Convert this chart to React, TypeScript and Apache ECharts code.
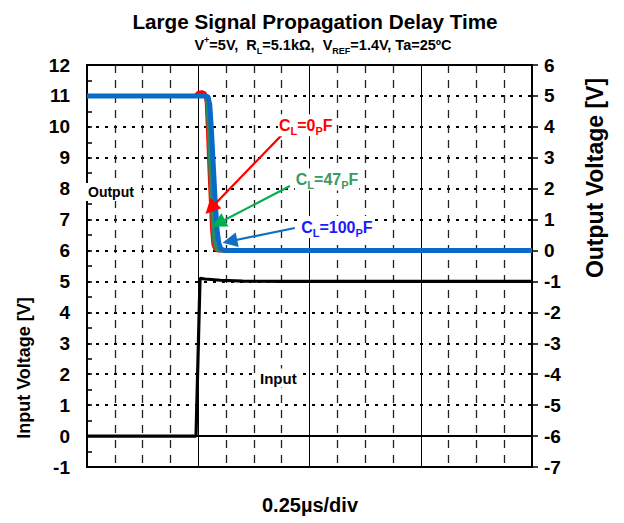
import React, { useEffect, useRef } from "react";
import * as echarts from "echarts";

// time in µs (0.25 µs per division)
const inputTime = [0, 0.245, 0.254, 0.265, 0.3, 0.35, 0.45, 1.0];
const inputVolt = [0, 0, 5.1, 5.08, 5.04, 5.01, 5.0, 5.0];

const cl0Time = [0, 0.243, 0.25, 0.258, 0.265, 0.269, 0.272, 0.275, 0.278, 0.281, 0.284, 0.289, 0.295, 1.0];
const cl0Volt = [5, 5, 5.1, 5.12, 5.08, 4.8, 3.8, 2.7, 1.7, 0.7, 0.2, 0.03, 0, 0];

const cl47Time = [0, 0.25, 0.267, 0.271, 0.274, 0.277, 0.28, 0.283, 0.287, 0.292, 0.3, 1.0];
const cl47Volt = [5, 5, 5.02, 4.7, 3.8, 2.7, 1.7, 0.8, 0.2, 0.03, 0, 0];

const cl100Time = [0, 0.266, 0.272, 0.276, 0.28, 0.284, 0.288, 0.292, 0.296, 0.301, 0.31, 1.0];
const cl100Volt = [5, 5, 4.97, 4.7, 3.8, 2.7, 1.6, 0.7, 0.25, 0.05, 0, 0];

const leftTicks = { min: -1, max: 12, step: 1 };
const rightTicks = { min: -7, max: 6, step: 1 };

// annotation anchors [time µs, output V]
const cl0Arrow = [[0.438, 3.74], [0.278, 1.36]];
const cl47Arrow = [[0.456, 2.09], [0.295, 0.88]];
const cl100Arrow = [[0.467, 0.73], [0.321, 0.3]];
const cl0LabelAt = [0.429, 4.05];
const cl47LabelAt = [0.467, 2.3];
const cl100LabelAt = [0.479, 0.76];

const FONT = '"Liberation Sans", Arial, sans-serif';

const zip = (xs: number[], ys: number[]) => xs.map((x, i) => [x, ys[i]]);

const labelRich = (color: string) => ({
  m: { fontFamily: FONT, fontWeight: "bold", fontSize: 16, lineHeight: 22, color },
  s: { fontFamily: FONT, fontWeight: "bold", fontSize: 11, lineHeight: 11, verticalAlign: "bottom", color },
});

function annot(arrow: number[][], at: number[], lineColor: string, textColor: string, formatter: string) {
  return {
    markLine: {
      silent: true,
      animation: false,
      z: 20,
      symbol: ["none", "triangle"],
      symbolSize: 15,
      label: { show: false },
      lineStyle: { color: lineColor, width: 2.2, type: "solid" },
      emphasis: { disabled: true },
      data: [[{ coord: arrow[0] }, { coord: arrow[1] }]],
    },
    markPoint: {
      silent: true,
      animation: false,
      z: 20,
      symbol: "rect",
      symbolSize: 0,
      label: {
        show: true,
        position: "right",
        distance: 0,
        formatter,
        backgroundColor: "#fff",
        padding: [0, 1],
        rich: labelRich(textColor),
      },
      data: [{ coord: at }],
    },
  };
}

export default function App() {
  const ref = useRef<HTMLDivElement>(null);
  useEffect(() => {
    document.body.style.margin = "0";
    const chart = echarts.init(ref.current!, null, { renderer: "svg" });
    const axisLabel = { color: "#000", fontFamily: FONT, fontWeight: "bold", fontSize: 19 };
    chart.setOption({
      animation: false,
      backgroundColor: "#fff",
      grid: { left: 87, top: 65, width: 445, height: 402, show: true, borderColor: "#000", borderWidth: 2, backgroundColor: "transparent" },
      xAxis: {
        type: "value",
        min: 0,
        max: 1,
        interval: 0.25,
        axisLabel: { show: false },
        axisTick: { show: false },
        axisLine: { show: true, lineStyle: { color: "#000", width: 2 } },
        splitLine: { show: true, lineStyle: { color: "#000", width: 1, type: "solid" } },
        minorTick: { show: false, splitNumber: 4 },
        minorSplitLine: { show: true, lineStyle: { color: "#222", width: 1.3, type: [8, 7] } },
      },
      yAxis: [
        {
          type: "value",
          position: "left",
          min: leftTicks.min,
          max: leftTicks.max,
          interval: leftTicks.step,
          axisLine: { show: true, lineStyle: { color: "#000", width: 2 } },
          axisTick: { show: true, inside: true, length: 5, lineStyle: { color: "#000", width: 1.5 } },
          minorTick: { show: true, splitNumber: 2, length: 5, lineStyle: { color: "#000", width: 1.5 } },
          axisLabel: { ...axisLabel, margin: 17 },
          splitLine: { show: true, lineStyle: { color: "#000", width: 2, type: [3, 6] } },
        },
        {
          type: "value",
          position: "right",
          min: rightTicks.min,
          max: rightTicks.max,
          interval: rightTicks.step,
          axisLine: { show: true, lineStyle: { color: "#000", width: 2 } },
          axisTick: { show: true, inside: false, length: 6, lineStyle: { color: "#000", width: 1.5 } },
          axisLabel: { ...axisLabel, margin: 12 },
          splitLine: { show: false },
        },
      ],
      series: [
        {
          name: "Input",
          type: "line",
          yAxisIndex: 0,
          data: zip(inputTime, inputVolt),
          showSymbol: false,
          symbol: "none",
          lineStyle: { color: "#000", width: 3.2 },
          z: 3,
        },
        {
          name: "CL=0pF",
          type: "line",
          yAxisIndex: 1,
          data: zip(cl0Time, cl0Volt),
          symbol: "none",
          lineStyle: { color: "#ff0000", width: 4 },
          z: 4,
          ...annot(cl0Arrow, cl0LabelAt, "#ff0000", "#ff0000", "{m|C}{s|L}{m|=0}{s|P}{m|F}"),
        },
        {
          name: "CL=47pF",
          type: "line",
          yAxisIndex: 1,
          data: zip(cl47Time, cl47Volt),
          symbol: "none",
          lineStyle: { color: "#2e8b57", width: 4 },
          z: 5,
          ...annot(cl47Arrow, cl47LabelAt, "#00b050", "#3a9a62", "{m|C}{s|L}{m|=47}{s|P}{m|F}"),
        },
        {
          name: "CL=100pF",
          type: "line",
          yAxisIndex: 1,
          data: zip(cl100Time, cl100Volt),
          symbol: "none",
          lineStyle: { color: "#0a6ac8", width: 5 },
          z: 6,
          ...annot(cl100Arrow, cl100LabelAt, "#1070c0", "#1a1aff", "{m|C}{s|L}{m|=100}{s|P}{m|F}"),
        },
      ],
      graphic: [
        {
          type: "text",
          x: 315,
          y: 21,
          style: { text: "Large Signal Propagation Delay Time", font: `bold 20.7px ${FONT}`, align: "center", verticalAlign: "middle", fill: "#000" },
        },
        {
          type: "text",
          x: 323,
          y: 45,
          style: {
            text: "{m|V}{p|+}{m|=5V,  R}{b|L}{m|=5.1kΩ,  V}{b|REF}{m|=1.4V, Ta=25ºC}",
            align: "center",
            verticalAlign: "middle",
            rich: {
              m: { fontFamily: FONT, fontWeight: "bold", fontSize: 14.5, lineHeight: 20, fill: "#000" },
              p: { fontFamily: FONT, fontWeight: "bold", fontSize: 9, lineHeight: 9, verticalAlign: "top", fill: "#000" },
              b: { fontFamily: FONT, fontWeight: "bold", fontSize: 9, lineHeight: 9, verticalAlign: "bottom", fill: "#000" },
            },
          },
        },
        {
          type: "text",
          x: 24,
          y: 368,
          rotation: Math.PI / 2,
          style: { text: "Input Voltage [V]", font: `bold 18px ${FONT}`, align: "center", verticalAlign: "middle", fill: "#000" },
        },
        {
          type: "text",
          x: 595,
          y: 178,
          rotation: Math.PI / 2,
          style: { text: "Output Voltage [V]", font: `bold 23px ${FONT}`, align: "center", verticalAlign: "middle", fill: "#000" },
        },
        {
          type: "text",
          x: 310,
          y: 505,
          style: { text: "0.25µs/div", font: `bold 20px ${FONT}`, align: "center", verticalAlign: "middle", fill: "#000" },
        },
        {
          type: "text",
          x: 86,
          y: 192,
          z: 100,
          style: { text: "Output", font: `bold 14px ${FONT}`, align: "left", verticalAlign: "middle", fill: "#000", backgroundColor: "#fff", padding: [2, 2] },
        },
        {
          type: "text",
          x: 258,
          y: 378,
          z: 100,
          style: { text: "Input", font: `bold 15px ${FONT}`, align: "left", verticalAlign: "middle", fill: "#000", backgroundColor: "#fff", padding: [2, 2] },
        },
      ],
    });
    return () => chart.dispose();
  }, []);
  return <div ref={ref} style={{ width: 624, height: 523 }} />;
}
